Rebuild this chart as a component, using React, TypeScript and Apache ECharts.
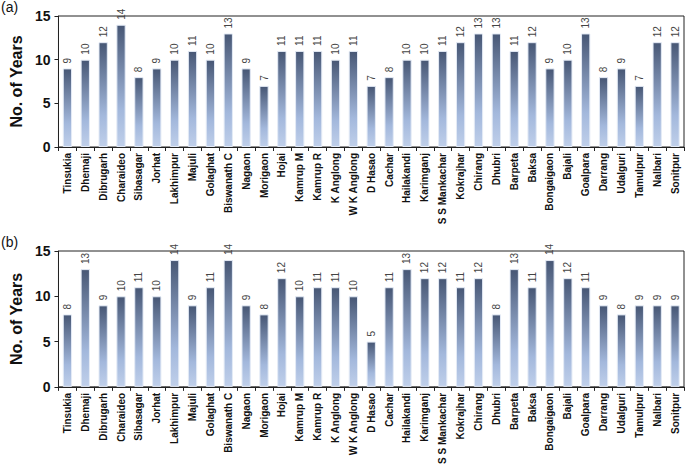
import React, { useEffect, useRef } from "react";
import * as echarts from "echarts";

const districts = [
  "Tinsukia", "Dhemaji", "Dibrugarh", "Charaideo", "Sibasagar", "Jorhat", "Lakhimpur",
  "Majuli", "Golaghat", "Biswanath C", "Nagaon", "Morigaon", "Hojai", "Kamrup M",
  "Kamrup R", "K Anglong", "W K Anglong", "D Hasao", "Cachar", "Hailakandi", "Karimganj",
  "S S Mankachar", "Kokrajhar", "Chirang", "Dhubri", "Barpeta", "Baksa", "Bongaigaon",
  "Bajali", "Goalpara", "Darrang", "Udalguri", "Tamulpur", "Nalbari", "Sonitpur",
];

const yearsA = [9, 10, 12, 14, 8, 9, 10, 11, 10, 13, 9, 7, 11, 11, 11, 10, 11, 7, 8, 10, 10, 11, 12, 13, 13, 11, 12, 9, 10, 13, 8, 9, 7, 12, 12];
const yearsB = [8, 13, 9, 10, 11, 10, 14, 9, 11, 14, 9, 8, 12, 10, 11, 11, 10, 5, 11, 13, 12, 12, 11, 12, 8, 13, 11, 14, 12, 11, 9, 8, 9, 9, 9];

const yTicks = { min: 0, max: 15, interval: 5 };
const panelLabels = ["(a)", "(b)"];
const axisName = "No. of Years";

const FONT = "'Liberation Sans', Arial, sans-serif";

export default function App() {
  const ref = useRef<HTMLDivElement>(null);
  useEffect(() => {
    if (!ref.current) return;
    const chart = echarts.init(ref.current, undefined, { renderer: "svg" });
    const grids = [
      { left: 55, top: 16, right: 1, height: 131 },
      { left: 55, top: 251, right: 1, height: 138 },
    ];
    const gradient = new echarts.graphic.LinearGradient(0, 0, 0, 1, [
      { offset: 0, color: "#475775" },
      { offset: 0.7, color: "#a3b8dc" },
      { offset: 1, color: "#bfcfea" },
    ]);
    const mkX = (i: number) => ({
      type: "category",
      gridIndex: i,
      data: districts,
      axisLine: { lineStyle: { color: "#222", width: 1 } },
      axisTick: { show: true, alignWithLabel: false, length: 4, lineStyle: { color: "#222" } },
      axisLabel: {
        interval: 0,
        rotate: 90,
        fontFamily: FONT,
        fontWeight: "bold",
        fontSize: 10,
        color: "#111",
        margin: 6,
      },
    });
    const mkY = (i: number) => ({
      type: "value",
      gridIndex: i,
      ...yTicks,
      name: axisName,
      nameLocation: "middle",
      nameGap: 33,
      nameTextStyle: { fontFamily: FONT, fontWeight: "bold", fontSize: 16, color: "#111" },
      splitLine: { show: false },
      axisLine: { show: true, lineStyle: { color: "#222" } },
      axisTick: { show: true, length: 4, lineStyle: { color: "#222" } },
      axisLabel: { fontFamily: FONT, fontWeight: "bold", fontSize: 14, color: "#111", margin: 8 },
    });
    const mkS = (i: number, data: number[]) => ({
      type: "bar",
      xAxisIndex: i,
      yAxisIndex: i,
      data,
      barWidth: "52%",
      itemStyle: { color: gradient, borderColor: "#e4ebf6", borderWidth: 1 },
      label: {
        show: true,
        position: "top",
        rotate: 90,
        align: "left",
        verticalAlign: "middle",
        distance: 5,
        fontFamily: FONT,
        fontSize: 10,
        color: "#444",
      },
    });
    chart.setOption({
      animation: false,
      backgroundColor: "#fff",
      grid: grids.map((g) => ({ ...g, show: true, borderColor: "#222", borderWidth: 1, backgroundColor: "transparent" })),
      xAxis: [mkX(0), mkX(1)],
      yAxis: [mkY(0), mkY(1)],
      series: [mkS(0, yearsA), mkS(1, yearsB)],
      graphic: [
        { type: "text", left: 1, top: 0, style: { text: panelLabels[0], fontFamily: FONT, fontSize: 14, fill: "#111" } },
        { type: "text", left: 1, top: 235, style: { text: panelLabels[1], fontFamily: FONT, fontSize: 14, fill: "#111" } },
      ],
    });
    return () => chart.dispose();
  }, []);
  return (
    <div
      ref={ref}
      style={{ position: "fixed", left: 0, top: 0, width: 685, height: 467, background: "#fff" }}
    />
  );
}
